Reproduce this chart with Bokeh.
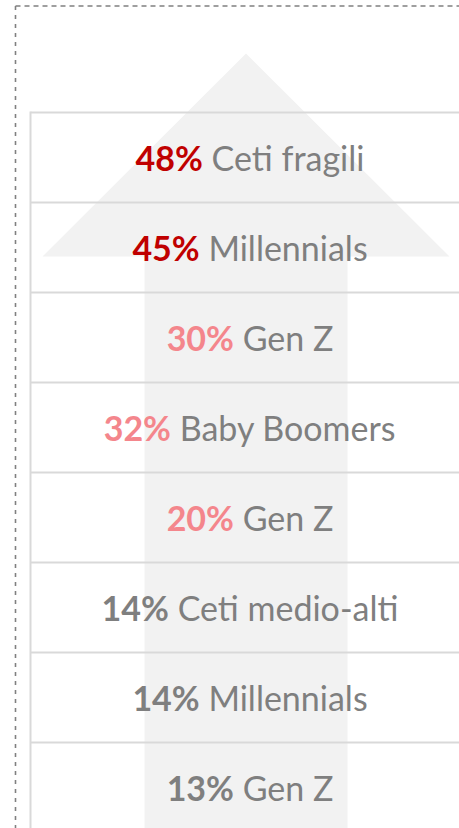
from bokeh.plotting import figure
from bokeh.models import ColumnDataSource, CustomJSTransform, Range1d
from bokeh.transform import transform
from bokeh.core.properties import value
from bokeh.embed import file_html
from bokeh.resources import INLINE

# ---- data ----
values = [48, 45, 30, 32, 20, 14, 14, 13]
labels = ["Ceti fragili", "Millennials", "Gen Z", "Baby Boomers",
          "Gen Z", "Ceti medio-alti", "Millennials", "Gen Z"]
tiers = ["alto", "alto", "medio", "medio", "medio", "basso", "basso", "basso"]
tier_colors = {"alto": "#C00000", "medio": "#F4868C", "basso": "#7F7F7F"}

# ---- layout (reference pixel space) ----
W, H = 459, 828
TABLE_TOP, ROW_H, TABLE_LEFT = 112, 90, 30
TEXT_X = 249.5
FONT = "Lato"
FSIZE = 34

p = figure(width=W, height=H,
           x_range=Range1d(0, W), y_range=Range1d(H, 0),
           output_backend="svg", toolbar_location=None, min_border=0)
p.axis.visible = False
p.grid.visible = False
p.outline_line_color = None
p.background_fill_color = "white"
p.border_fill_color = "white"

# dashed frame (top and left)
p.segment(x0=[15], y0=[5.5], x1=[W + 5], y1=[5.5],
          line_color="#808080", line_width=1.6, line_dash="5 4")
p.segment(x0=[15], y0=[5.5], x1=[15], y1=[H + 5],
          line_color="#808080", line_width=1.6, line_dash="4 5")

# big background arrow
cx = 245.5
p.patch(x=[cx, 449, 347, 347, 144, 144, 42],
        y=[53, 256, 256, H + 10, H + 10, 256, 256],
        fill_color="#F2F2F2", line_color=None)

# table rules
n = len(values)
rule_y = [TABLE_TOP + ROW_H * i for i in range(n)]
p.segment(x0=[TABLE_LEFT] * n, y0=rule_y, x1=[W + 10] * n, y1=rule_y,
          line_color="#D9D9D9", line_width=2)
p.segment(x0=[TABLE_LEFT], y0=[TABLE_TOP - 1], x1=[TABLE_LEFT], y1=[H + 10],
          line_color="#D9D9D9", line_width=2)

# texts
src = ColumnDataSource(dict(
    idx=list(range(n)),
    x=[TEXT_X] * n,
    y=[TABLE_TOP + ROW_H * i + 45 for i in range(n)],
    pct=[f"{v}%" for v in values],
    label=labels,
    color=[tier_colors[t] for t in tiers],
))

js = """
const ctx = document.createElement('canvas').getContext('2d');
const out = new Float64Array(xs.length);
for (let k = 0; k < xs.length; k++) {
  const i = xs[k];
  ctx.font = bold;
  const wp = ctx.measureText(src.data.pct[i]).width;
  ctx.font = reg;
  const ws = ctx.measureText(' ').width;
  const wl = ctx.measureText(src.data.label[i]).width;
  const start = -(wp + ws + wl) / 2;
  out[k] = mode == 0 ? start + wp : start + wp + ws;
}
return out;
"""
bold_font = f"bold {FSIZE}px {FONT}"
reg_font = f"{FSIZE}px {FONT}"
t_pct = CustomJSTransform(args=dict(src=src, bold=bold_font, reg=reg_font, mode=0), v_func=js)
t_lab = CustomJSTransform(args=dict(src=src, bold=bold_font, reg=reg_font, mode=1), v_func=js)

p.text(x="x", y="y", text="pct", source=src, x_offset=transform("idx", t_pct),
       text_align="right", text_baseline="alphabetic", text_color="color",
       text_font=value(FONT), text_font_size=f"{FSIZE}px", text_font_style="bold")
p.text(x="x", y="y", text="label", source=src, x_offset=transform("idx", t_lab),
       text_align="left", text_baseline="alphabetic", text_color="#7F7F7F",
       text_font=value(FONT), text_font_size=f"{FSIZE}px")

open("out.html", "w").write(file_html(p, INLINE))
